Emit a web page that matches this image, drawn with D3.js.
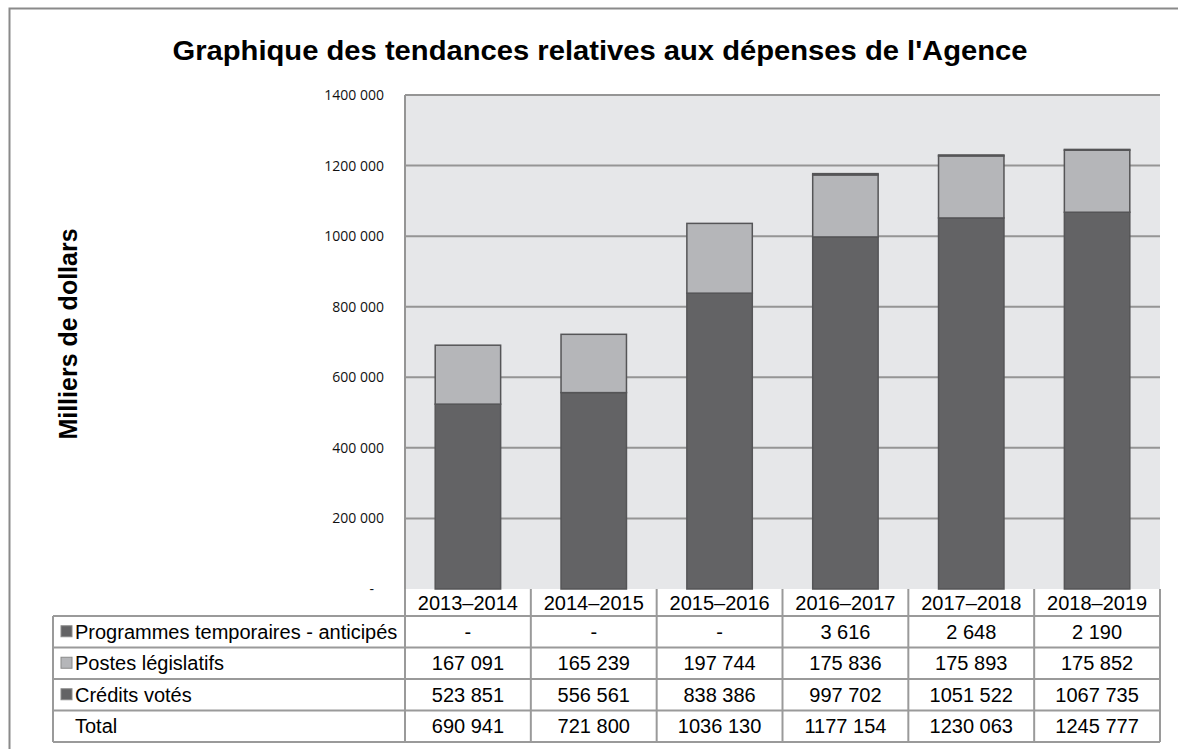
<!DOCTYPE html>
<html>
<head>
<meta charset="utf-8">
<script src="https://cdn.jsdelivr.net/npm/d3@7"></script>
<style>
  body { margin: 0; background: #fff; }
  svg { display: block; }
</style>
</head>
<body>
<svg id="chart"></svg>
<script>
// Data
const years = ["2013–2014", "2014–2015", "2015–2016", "2016–2017", "2017–2018", "2018–2019"];
const creditsVotes = [523851, 556561, 838386, 997702, 1051522, 1067735];
const postesLegislatifs = [167091, 165239, 197744, 175836, 175893, 175852];
const programmesTemp = [0, 0, 0, 3616, 2648, 2190];
const totals = [690941, 721800, 1036130, 1177154, 1230063, 1245777];
const yTicks = [0, 200000, 400000, 600000, 800000, 1000000, 1200000, 1400000];

const seriesKeys = ["credits", "postes", "programmes"];
const seriesLabels = {
  programmes: "Programmes temporaires - anticipés",
  postes: "Postes législatifs",
  credits: "Crédits votés"
};

const rows = years.map((y, i) => ({
  year: y,
  credits: creditsVotes[i],
  postes: postesLegislatifs[i],
  programmes: programmesTemp[i]
}));

// Sizes
const width = 1178;
const height = 749;
const marginTop = 95;
const marginLeft = 405;
const marginRight = 18;
const plotBottom = 589;

const svg = d3.select("#chart")
    .attr("width", width)
    .attr("height", height)
    .attr("viewBox", [0, 0, width, height])
    .style("font-family", "'Liberation Sans', Arial, sans-serif");

// outer frame (only top and left edges are visible)
svg.append("path")
    .attr("d", `M9.5,${height} V8.5 H${width}`)
    .attr("fill", "none")
    .attr("stroke", "#8a8a8a")
    .attr("stroke-width", 2);

svg.append("text")
    .attr("x", 600)
    .attr("y", 60)
    .attr("text-anchor", "middle")
    .style("font-size", "28px")
    .style("font-weight", "bold")
    .attr("textLength", 855)
    .attr("lengthAdjust", "spacingAndGlyphs")
    .text("Graphique des tendances relatives aux dépenses de l'Agence");

// Scales
const x = d3.scaleBand()
    .domain(years)
    .range([marginLeft, width - marginRight])
    .paddingInner(0.48)
    .paddingOuter(0.24);

const y = d3.scaleLinear()
    .domain([0, 1400000])
    .range([plotBottom, marginTop]);

const color = d3.scaleOrdinal()
    .domain(seriesKeys)
    .range(["#636365", "#b5b6b9", "#636365"]);

// plot background
svg.append("rect")
    .attr("x", marginLeft)
    .attr("y", marginTop)
    .attr("width", width - marginRight - marginLeft)
    .attr("height", plotBottom - marginTop)
    .attr("fill", "#e6e7e9");

// gridlines
svg.append("g")
  .selectAll("line")
  .data(yTicks.filter(d => d > 0))
  .join("line")
    .attr("x1", marginLeft)
    .attr("x2", width - marginRight)
    .attr("y1", d => y(d))
    .attr("y2", d => y(d))
    .attr("stroke", "#959595")
    .attr("stroke-width", 2);

// left axis line
svg.append("line")
    .attr("x1", marginLeft).attr("x2", marginLeft)
    .attr("y1", marginTop).attr("y2", plotBottom)
    .attr("stroke", "#959595")
    .attr("stroke-width", 2);

const fmt = v => v === 0 ? "-" : d3.format(",")(v).replace(/,(\d{3})$/, " $1").replace(/,/g, "");

// y axis labels
svg.append("g")
    .attr("transform", `translate(${marginLeft - 18},0)`)
    .call(d3.axisLeft(y)
        .tickValues(yTicks)
        .tickSize(0)
        .tickFormat(fmt))
    .call(g => g.select(".domain").remove())
    .call(g => g.selectAll("text")
        .attr("fill", "#111")
        .style("font-family", "'Open Sans', sans-serif")
        .style("font-size", "14px")
        .attr("dx", d => d === 0 ? -10 : 0));

// y axis title
svg.append("text")
    .attr("transform", `translate(77, 334) rotate(-90)`)
    .attr("text-anchor", "middle")
    .style("font-size", "25px")
    .style("font-weight", "bold")
    .text("Milliers de dollars");

// stacked bars
const stacked = d3.stack().keys(seriesKeys)(rows);

svg.append("g")
  .selectAll("g")
  .data(stacked)
  .join("g")
    .attr("fill", d => color(d.key))
  .selectAll("rect")
  .data(d => d.filter(s => s[1] - s[0] > 0))
  .join("rect")
    .attr("x", d => x(d.data.year))
    .attr("y", d => y(d[1]))
    .attr("width", x.bandwidth())
    .attr("height", d => y(d[0]) - y(d[1]))
    .attr("stroke", "#555557")
    .attr("stroke-width", 1.5);

// Data table
const tableLeft = 53;
const headerTop = plotBottom;
const headerH = 27;
const rowH = 31.5;
const colW = x.step();
const tableRows = [
  {key: "programmes", label: seriesLabels.programmes, values: programmesTemp},
  {key: "postes", label: seriesLabels.postes, values: postesLegislatifs},
  {key: "credits", label: seriesLabels.credits, values: creditsVotes},
  {key: null, label: "Total", values: totals}
];
const colX = i => marginLeft + i * colW;
const fontSize = "20px";

const table = svg.append("g");
const lineColor = "#9a9a9a";

// header cells
table.selectAll("text.head")
  .data(years)
  .join("text")
    .attr("class", "head")
    .attr("x", (d, i) => colX(i) + colW / 2)
    .attr("y", headerTop + headerH / 2 + 7)
    .attr("text-anchor", "middle")
    .style("font-size", fontSize)
    .text(d => d);

const bodyTop = headerTop + headerH;
const bodyBottom = bodyTop + rowH * tableRows.length;

// horizontal lines
table.selectAll("line.h")
  .data(d3.range(tableRows.length + 1))
  .join("line")
    .attr("x1", tableLeft)
    .attr("x2", width - marginRight)
    .attr("y1", i => bodyTop + i * rowH)
    .attr("y2", i => bodyTop + i * rowH)
    .attr("stroke", lineColor)
    .attr("stroke-width", 2);

// vertical lines
table.selectAll("line.v")
  .data(d3.range(years.length + 1))
  .join("line")
    .attr("x1", i => colX(i))
    .attr("x2", i => colX(i))
    .attr("y1", headerTop)
    .attr("y2", bodyBottom)
    .attr("stroke", lineColor)
    .attr("stroke-width", 2);

table.append("line")
    .attr("x1", tableLeft).attr("x2", tableLeft)
    .attr("y1", bodyTop).attr("y2", bodyBottom)
    .attr("stroke", lineColor)
    .attr("stroke-width", 2);

const rowG = table.selectAll("g.row")
  .data(tableRows)
  .join("g")
    .attr("transform", (d, i) => `translate(0, ${bodyTop + i * rowH})`);

rowG.filter(d => d.key)
  .append("rect")
    .attr("x", tableLeft + 8)
    .attr("y", rowH / 2 - 6)
    .attr("width", 11)
    .attr("height", 11)
    .attr("fill", d => color(d.key))
    .attr("stroke", "#8a8a8a")
    .attr("stroke-width", 1);

rowG.append("text")
    .attr("x", tableLeft + 22)
    .attr("y", rowH / 2 + 7)
    .style("font-size", fontSize)
    .text(d => d.label);

rowG.selectAll("text.val")
  .data(d => d.values)
  .join("text")
    .attr("class", "val")
    .attr("x", (d, i) => colX(i) + colW / 2)
    .attr("y", rowH / 2 + 7)
    .attr("text-anchor", "middle")
    .style("font-size", fontSize)
    .text(d => fmt(d));
</script>
</body>
</html>
